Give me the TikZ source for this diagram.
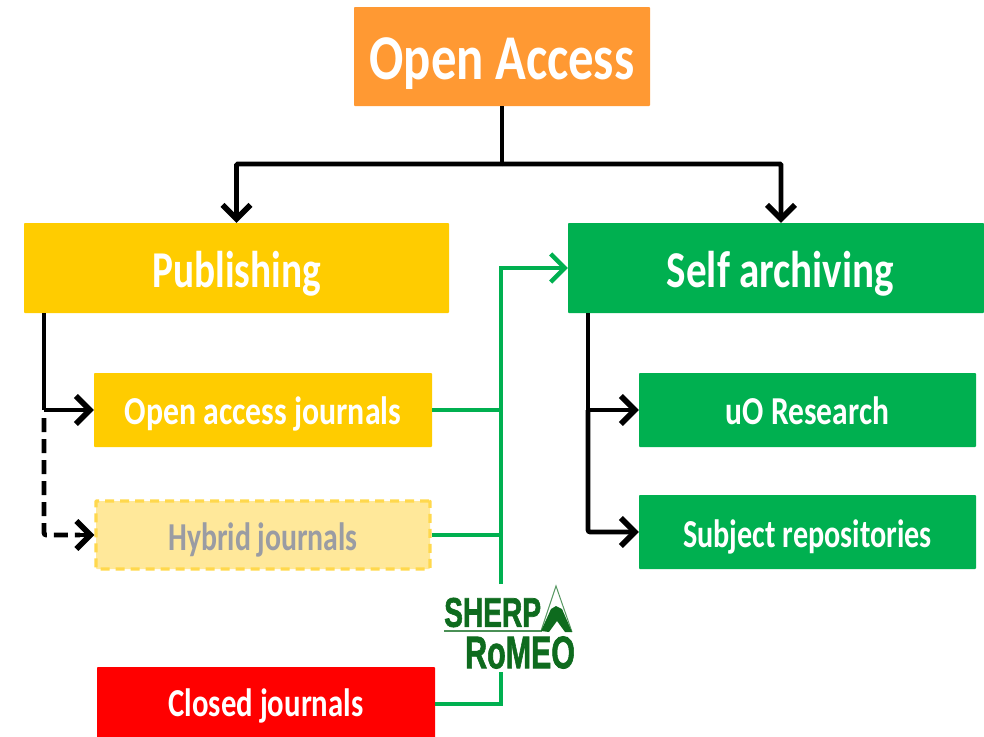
\documentclass[tikz,border=0pt]{standalone}
\usepackage{fontspec}
\setmainfont{Carlito}[BoldFont={Carlito Bold}]
\newfontfamily\logofont{Liberation Sans Bold}[FakeBold=1.8]
\usetikzlibrary{arrows.meta,positioning,calc}
\definecolor{oaorange}{HTML}{FF9933}
\definecolor{oayellow}{HTML}{FFCC00}
\definecolor{oapale}{HTML}{FFE89A}
\definecolor{oadash}{HTML}{FFD84D}
\definecolor{oagreen}{HTML}{00B050}
\definecolor{oared}{HTML}{FF0000}
\definecolor{oagrey}{HTML}{9A9CA3}
\definecolor{logogreen}{HTML}{0E6B1E}
\tikzset{
  x=1pt,y=-1pt,
  box/.style={anchor=center,inner sep=0pt,text=white,font=\bfseries,rounded corners=0.8pt},
  blackarrow/.style={draw=black,line width=4.6pt,-{Straight Barb[length=14pt,width=28pt,line width=5.6pt]}},
  blackline/.style={draw=black,line width=4.6pt},
  greenline/.style={draw=oagreen,line width=3.6pt},
  greenarrow/.style={greenline,-{Straight Barb[length=14pt,width=28pt,line width=4.4pt]}},
}
% horizontal scale, downward shift, size, text
\newcommand{\boxtxt}[4]{\vbox{\kern\dimexpr 2pt*#2\relax\hbox{\fontsize{#3}{#3}\selectfont\scalebox{#1}[1.1]{#4}}}}
\begin{document}
\begin{tikzpicture}
\useasboundingbox (0,0) rectangle (984,736);
\clip (0,0) rectangle (984,736);
\node[box,fill=oaorange,minimum width=296pt,minimum height=99pt] (oa) at (502,56.5) {\boxtxt{0.875}{7}{58}{Open Access}};
\node[box,fill=oayellow,minimum width=425pt,minimum height=90pt] (pub) at (236.5,268) {\boxtxt{0.836}{6}{47}{Publishing}};
\node[box,fill=oagreen,minimum width=416pt,minimum height=90pt] (self) at (776,268) {\boxtxt{0.874}{6}{47}{\hspace*{10pt}Self archiving}};
\node[box,fill=oayellow,minimum width=338pt,minimum height=74pt] (oaj) at (263,410) {\boxtxt{0.883}{4}{36}{Open access journals}};
\node[box,fill=oapale,draw=oadash,line width=3.4pt,dash pattern=on 9pt off 6pt,text=oagrey,minimum width=334pt,minimum height=68pt] (hyb) at (263,535) {\boxtxt{0.827}{5}{36}{Hybrid journals}};
\node[box,fill=oared,minimum width=338pt,minimum height=80pt] (closed) at (266,707) {\boxtxt{0.854}{-1}{36}{Closed journals}};
\node[box,fill=oagreen,minimum width=337pt,minimum height=74pt] (uo) at (807.5,410) {\boxtxt{0.875}{1}{36}{uO Research}};
\node[box,fill=oagreen,minimum width=337pt,minimum height=74pt] (subj) at (807.5,532) {\boxtxt{0.838}{5}{36}{Subject repositories}};
% logo
\node[anchor=west,inner sep=0pt,text=logogreen,font=\logofont] (sherp) at (444,612.5) {\fontsize{37}{37}\selectfont\scalebox{0.76}[1.12]{SHERP}};
\node[anchor=west,inner sep=0pt,text=logogreen,font=\logofont] (romeo) at (465,652.5) {\fontsize{40}{40}\selectfont\scalebox{0.76}[1.14]{RoMEO}};
\coordinate (ruleL) at (444,631);
\coordinate (ruleR) at (542,631);
\draw[logogreen!75,line width=1.4pt] (ruleL) -- (ruleR);
\coordinate (peak) at (556,586);
\coordinate (mtL) at (541,631);
\coordinate (mtR) at (572,632);
\draw[logogreen!70,line width=1pt] (mtL) -- (peak) -- (mtR);
\fill[logogreen] (mtL) -- (551,609) -- (556,606) -- (562,609) -- (572,632) -- (565,632) -- (557,621) -- (549,632) -- cycle;
% black connectors
\coordinate (junc) at (502,164);
\coordinate (jl) at (236.5,164);
\coordinate (jr) at (781,164);
\draw[blackline] (oa.south) -- (junc);
\draw[blackarrow,rounded corners=1pt] (junc) -- (jl) -- (jl |- pub.north);
\draw[blackarrow,rounded corners=1pt] (junc) -- (jr) -- (jr |- self.north);
\coordinate (pl) at (44,313);
\coordinate (pm) at (44,410);
\coordinate (pb) at (44,535);
\draw[blackline] (pl) -- (pm);
\draw[blackarrow] (pm) -- (oaj.west);
\draw[draw=black,line width=4.6pt,dash pattern=on 14pt off 7pt,rounded corners=2pt] (pm) ++(0,8) -- (pb) -- (80,535);
\draw[blackarrow] (78,535) -- (hyb.west);
\coordinate (sl) at (588,313);
\coordinate (sm) at (588,410);
\coordinate (sb) at (588,532);
\draw[blackarrow] (sl) -- (sm) -- (uo.west);
\draw[blackarrow,rounded corners=2pt] (sm) -- (sb) -- (subj.west);
% green connectors
\coordinate (ga) at (501,410);
\coordinate (gb) at (501,535);
\coordinate (gc) at (501,704);
\coordinate (gtop) at (501,268);
\coordinate (gmid) at (501,584);
\coordinate (glow) at (501,672);
\draw[greenline] (oaj.east) -- (ga);
\draw[greenline] (hyb.east) -- (gb);
\draw[greenline] (closed.east |- gc) -- (gc) -- (glow);
\draw[greenarrow] (gmid) -- (gtop) -- (self.west);
\end{tikzpicture}
\end{document}
